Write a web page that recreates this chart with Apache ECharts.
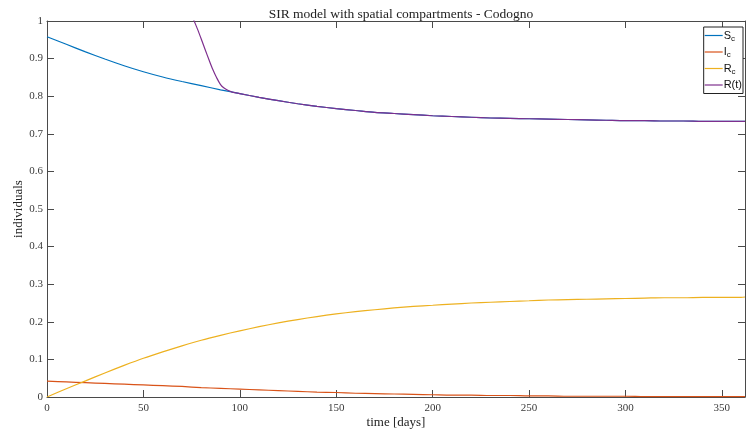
<!DOCTYPE html>
<html>
<head>
<meta charset="utf-8">
<script src="https://cdn.jsdelivr.net/npm/echarts@6/dist/echarts.min.js"></script>
<style>
  html, body { margin: 0; padding: 0; background: #fff; }
  #chart { width: 746px; height: 431px; }
</style>
</head>
<body>
<div id="chart"></div>
<script>
// Sample times (days) for the compartment curves
const days = [0, 10, 20, 30, 40, 50, 60, 70, 80, 90, 100, 110, 120, 130, 140, 150, 160, 170, 180,
  190, 200, 210, 220, 230, 240, 250, 260, 270, 280, 290, 300, 310, 320, 330, 340, 350, 360, 362];

// Susceptible fraction S_c
const sValues = [0.958, 0.938, 0.918, 0.899, 0.881, 0.865, 0.851, 0.839, 0.828, 0.817, 0.807,
  0.797, 0.788, 0.780, 0.773, 0.767, 0.762, 0.757, 0.754, 0.751, 0.748, 0.746, 0.744, 0.742,
  0.741, 0.740, 0.739, 0.738, 0.737, 0.736, 0.735, 0.735, 0.734, 0.734, 0.733, 0.733, 0.733, 0.733];

// Infected fraction I_c
const iValues = [0.042, 0.040, 0.038, 0.036, 0.034, 0.032, 0.030, 0.028, 0.025, 0.023, 0.021,
  0.019, 0.017, 0.015, 0.013, 0.012, 0.010, 0.009, 0.008, 0.007, 0.006, 0.005, 0.005, 0.004,
  0.004, 0.003, 0.003, 0.002, 0.002, 0.002, 0.002, 0.001, 0.001, 0.001, 0.001, 0.001, 0.001, 0.001];

// Recovered fraction R_c
const rValues = [0.000, 0.022, 0.043, 0.064, 0.084, 0.103, 0.120, 0.136, 0.151, 0.164, 0.176,
  0.187, 0.197, 0.206, 0.214, 0.221, 0.227, 0.232, 0.237, 0.241, 0.244, 0.247, 0.250, 0.252,
  0.254, 0.256, 0.258, 0.259, 0.260, 0.261, 0.262, 0.263, 0.264, 0.264, 0.265, 0.265, 0.265, 0.266];

// Reproduction indicator R(t), sampled from where it enters the plotted range
const rtDays = [74, 76, 78, 80, 82, 84, 86, 88, 90, 92, 94, 96, 98, 100, 110, 120, 130, 140, 150,
  160, 170, 180, 190, 200, 210, 220, 230, 240, 250, 260, 270, 280, 290, 300, 310, 320, 330, 340,
  350, 360, 362];
const rtValues = [1.030, 1.004, 0.979, 0.952, 0.924, 0.897, 0.871, 0.849, 0.831, 0.821, 0.815,
  0.811, 0.809, 0.807, 0.797, 0.788, 0.780, 0.773, 0.767, 0.762, 0.757, 0.754, 0.751, 0.748,
  0.746, 0.744, 0.742, 0.741, 0.740, 0.739, 0.738, 0.737, 0.736, 0.735, 0.735, 0.734, 0.734,
  0.733, 0.733, 0.733, 0.733];

const xTicks = [0, 50, 100, 150, 200, 250, 300, 350];

const pair = (xs, ys) => xs.map((x, k) => [x, ys[k]]);

const serif = '"Liberation Serif", "DejaVu Serif", serif';
const sans = '"Liberation Sans", Arial, sans-serif';
const axisColor = '#4a4a4a';
const labelColor = '#3a3a3a';

const chart = echarts.init(document.getElementById('chart'), null, { renderer: 'canvas' });

const lineSeries = (name, data, color) => ({
  name, type: 'line', data, smooth: 0.3, symbol: 'none', clip: true,
  lineStyle: { color, width: 1.2 }, itemStyle: { color }, emphasis: { disabled: true }
});

const boxAxisLine = { show: true, onZero: false, lineStyle: { color: axisColor, width: 1 } };
const inTicks = { show: true, inside: true, length: 7, lineStyle: { color: axisColor } };

const main = { fontSize: 11, fontFamily: sans, color: '#111', lineHeight: 14 };
const sub = { fontSize: 8, fontFamily: sans, color: '#111', verticalAlign: 'bottom', padding: [5, 0, 0, 0] };

chart.setOption({
  animation: false,
  backgroundColor: '#fff',
  title: {
    text: 'SIR model with spatial compartments - Codogno',
    left: 396, top: 2, textAlign: 'center',
    textStyle: { fontFamily: serif, fontSize: 13.5, fontWeight: 'normal', color: '#222' }
  },
  grid: { left: 47, right: 1, top: 21, bottom: 34, containLabel: false, outerBoundsMode: 'none' },
  legend: {
    orient: 'vertical', right: 3, top: 27,
    backgroundColor: '#fff', borderColor: '#222', borderWidth: 1,
    padding: [3, 1, 3, 1], itemGap: 4, itemWidth: 18, itemHeight: 1.2, icon: 'rect',
    data: ['S', 'I', 'R', 'R(t)'],
    formatter: n => (n === 'R(t)' ? '{m|R(t)}' : '{m|' + n + '}{s|c}'),
    textStyle: { rich: { m: main, s: sub }, padding: [0, 0, 0, -4] }
  },
  xAxis: [{
    type: 'value', min: 0, max: 362, interval: 50,
    name: 'time [days]', nameLocation: 'middle', nameGap: 19, nameMoveOverlap: false,
    nameTextStyle: { fontFamily: serif, fontSize: 13, color: '#222' },
    axisLine: boxAxisLine, axisTick: inTicks,
    axisLabel: {
      fontFamily: serif, fontSize: 11, color: labelColor, margin: 6,
      formatter: v => (xTicks.includes(v) ? String(v) : '')
    },
    splitLine: { show: false }
  }, {
    type: 'value', position: 'top', min: 0, max: 362, interval: 50,
    axisLine: boxAxisLine, axisTick: inTicks,
    axisLabel: { show: false }, splitLine: { show: false }
  }],
  yAxis: [{
    type: 'value', min: 0, max: 1, interval: 0.1,
    name: 'individuals', nameLocation: 'middle', nameGap: 22, nameRotate: 90, nameMoveOverlap: false,
    nameTextStyle: { fontFamily: serif, fontSize: 13, color: '#222' },
    axisLine: boxAxisLine, axisTick: inTicks,
    axisLabel: { fontFamily: serif, fontSize: 11, color: labelColor, margin: 4 },
    splitLine: { show: false }
  }, {
    type: 'value', position: 'right', min: 0, max: 1, interval: 0.1,
    axisLine: boxAxisLine, axisTick: inTicks,
    axisLabel: { show: false }, splitLine: { show: false }
  }],
  series: [
    lineSeries('S', pair(days, sValues), '#0072BD'),
    lineSeries('I', pair(days, iValues), '#D95319'),
    lineSeries('R', pair(days, rValues), '#EDB120'),
    lineSeries('R(t)', pair(rtDays, rtValues), '#7E2F8E')
  ]
});
</script>
</body>
</html>
